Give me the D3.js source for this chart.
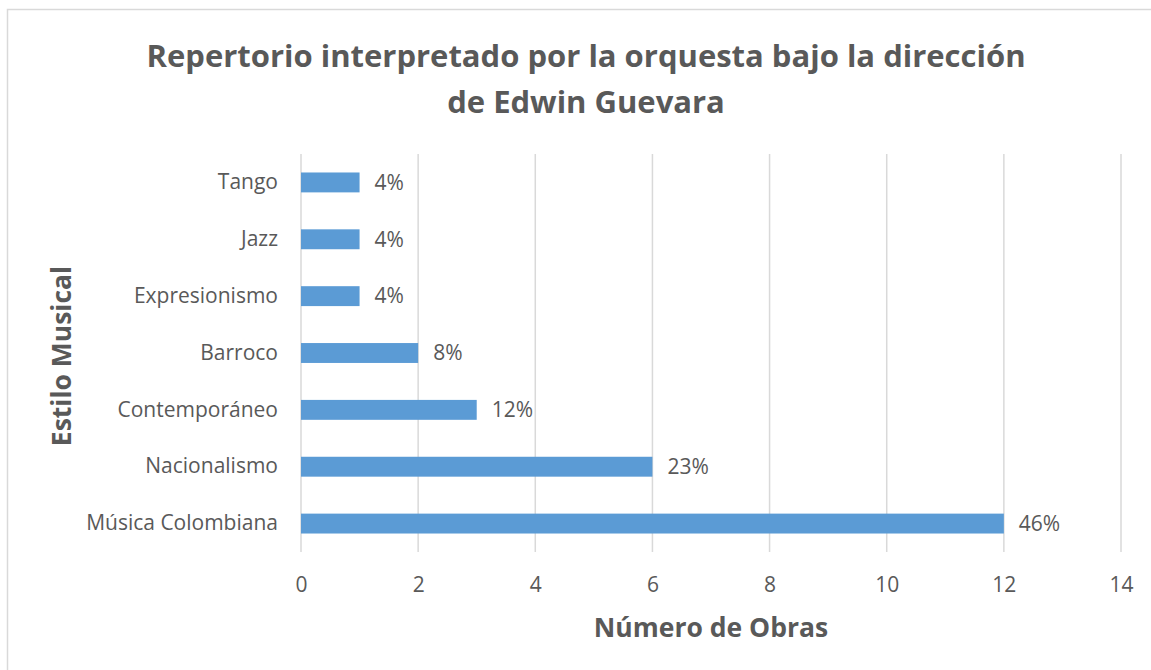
<!DOCTYPE html>
<html>
<head>
<meta charset="utf-8">
<script src="https://cdn.jsdelivr.net/npm/d3@7"></script>
<style>
  body { margin: 0; background: #fff; }
  svg text { font-family: "Open Sans", sans-serif; fill: #595959; }
</style>
</head>
<body>
<div id="chart"></div>
<script>
// data
var estilos = ["Tango", "Jazz", "Expresionismo", "Barroco", "Contemporáneo", "Nacionalismo", "Música Colombiana"];
var obras = [1, 1, 1, 2, 3, 6, 12];
var porcentajes = ["4%", "4%", "4%", "8%", "12%", "23%", "46%"];
var xTicks = [0, 2, 4, 6, 8, 10, 12, 14];

var width = 1151, height = 670;
var margin = {top: 154, right: 30, bottom: 118, left: 301};

var svg = d3.select("#chart").append("svg")
    .attr("width", width)
    .attr("height", height);

// chart frame
svg.append("rect")
    .attr("x", 7.5).attr("y", 9.5)
    .attr("width", width).attr("height", height)
    .attr("fill", "none")
    .attr("stroke", "#d9d9d9")
    .attr("stroke-width", 1.5);

var x = d3.scaleLinear().domain([0, 14]).range([margin.left, 1121]);
var y = d3.scaleBand().domain(estilos).range([margin.top, height - margin.bottom]).paddingInner(0.65).paddingOuter(0.325);

// vertical gridlines
svg.append("g")
    .selectAll("line")
    .data(xTicks)
    .enter().append("line")
    .attr("x1", function(d) { return x(d); })
    .attr("x2", function(d) { return x(d); })
    .attr("y1", margin.top)
    .attr("y2", height - margin.bottom)
    .attr("stroke", "#d9d9d9")
    .attr("stroke-width", 1.5);

// x axis labels
var xAxis = d3.axisBottom(x).tickValues(xTicks).tickSize(0).tickPadding(25);
var gx = svg.append("g")
    .attr("transform", "translate(0," + (height - margin.bottom) + ")")
    .call(xAxis);
gx.select(".domain").remove();
gx.attr("font-family", null);
gx.selectAll("text").style("font-size", "21px");

// y axis labels
var yAxis = d3.axisLeft(y).tickSize(0).tickPadding(23);
var gy = svg.append("g")
    .attr("transform", "translate(" + margin.left + ",0)")
    .call(yAxis);
gy.select(".domain").remove();
gy.attr("font-family", null);
gy.selectAll("text").style("font-size", "21px");

// bars
svg.selectAll(".bar")
    .data(obras)
    .enter().append("rect")
    .attr("class", "bar")
    .attr("x", x(0))
    .attr("y", function(d, i) { return y(estilos[i]); })
    .attr("width", function(d) { return x(d) - x(0); })
    .attr("height", y.bandwidth())
    .attr("fill", "#5b9bd5");

// data labels
svg.selectAll(".lbl")
    .data(obras)
    .enter().append("text")
    .attr("class", "lbl")
    .attr("x", function(d) { return x(d) + 15; })
    .attr("y", function(d, i) { return y(estilos[i]) + y.bandwidth() / 2; })
    .attr("dy", "0.35em")
    .style("font-size", "21px")
    .text(function(d, i) { return porcentajes[i]; });

// title
var title = svg.append("text")
    .attr("text-anchor", "middle")
    .style("font-size", "31px")
    .style("font-weight", "bold");
title.append("tspan").attr("x", 586).attr("y", 67).text("Repertorio interpretado por la orquesta bajo la dirección");
title.append("tspan").attr("x", 586).attr("y", 113).text("de Edwin Guevara");

// axis titles
svg.append("text")
    .attr("x", 711).attr("y", 637)
    .attr("text-anchor", "middle")
    .style("font-size", "26.5px")
    .style("font-weight", "bold")
    .text("Número de Obras");

svg.append("text")
    .attr("transform", "translate(71,356) rotate(-90)")
    .attr("text-anchor", "middle")
    .style("font-size", "26.5px")
    .style("font-weight", "bold")
    .text("Estilo Musical");
</script>
</body>
</html>
